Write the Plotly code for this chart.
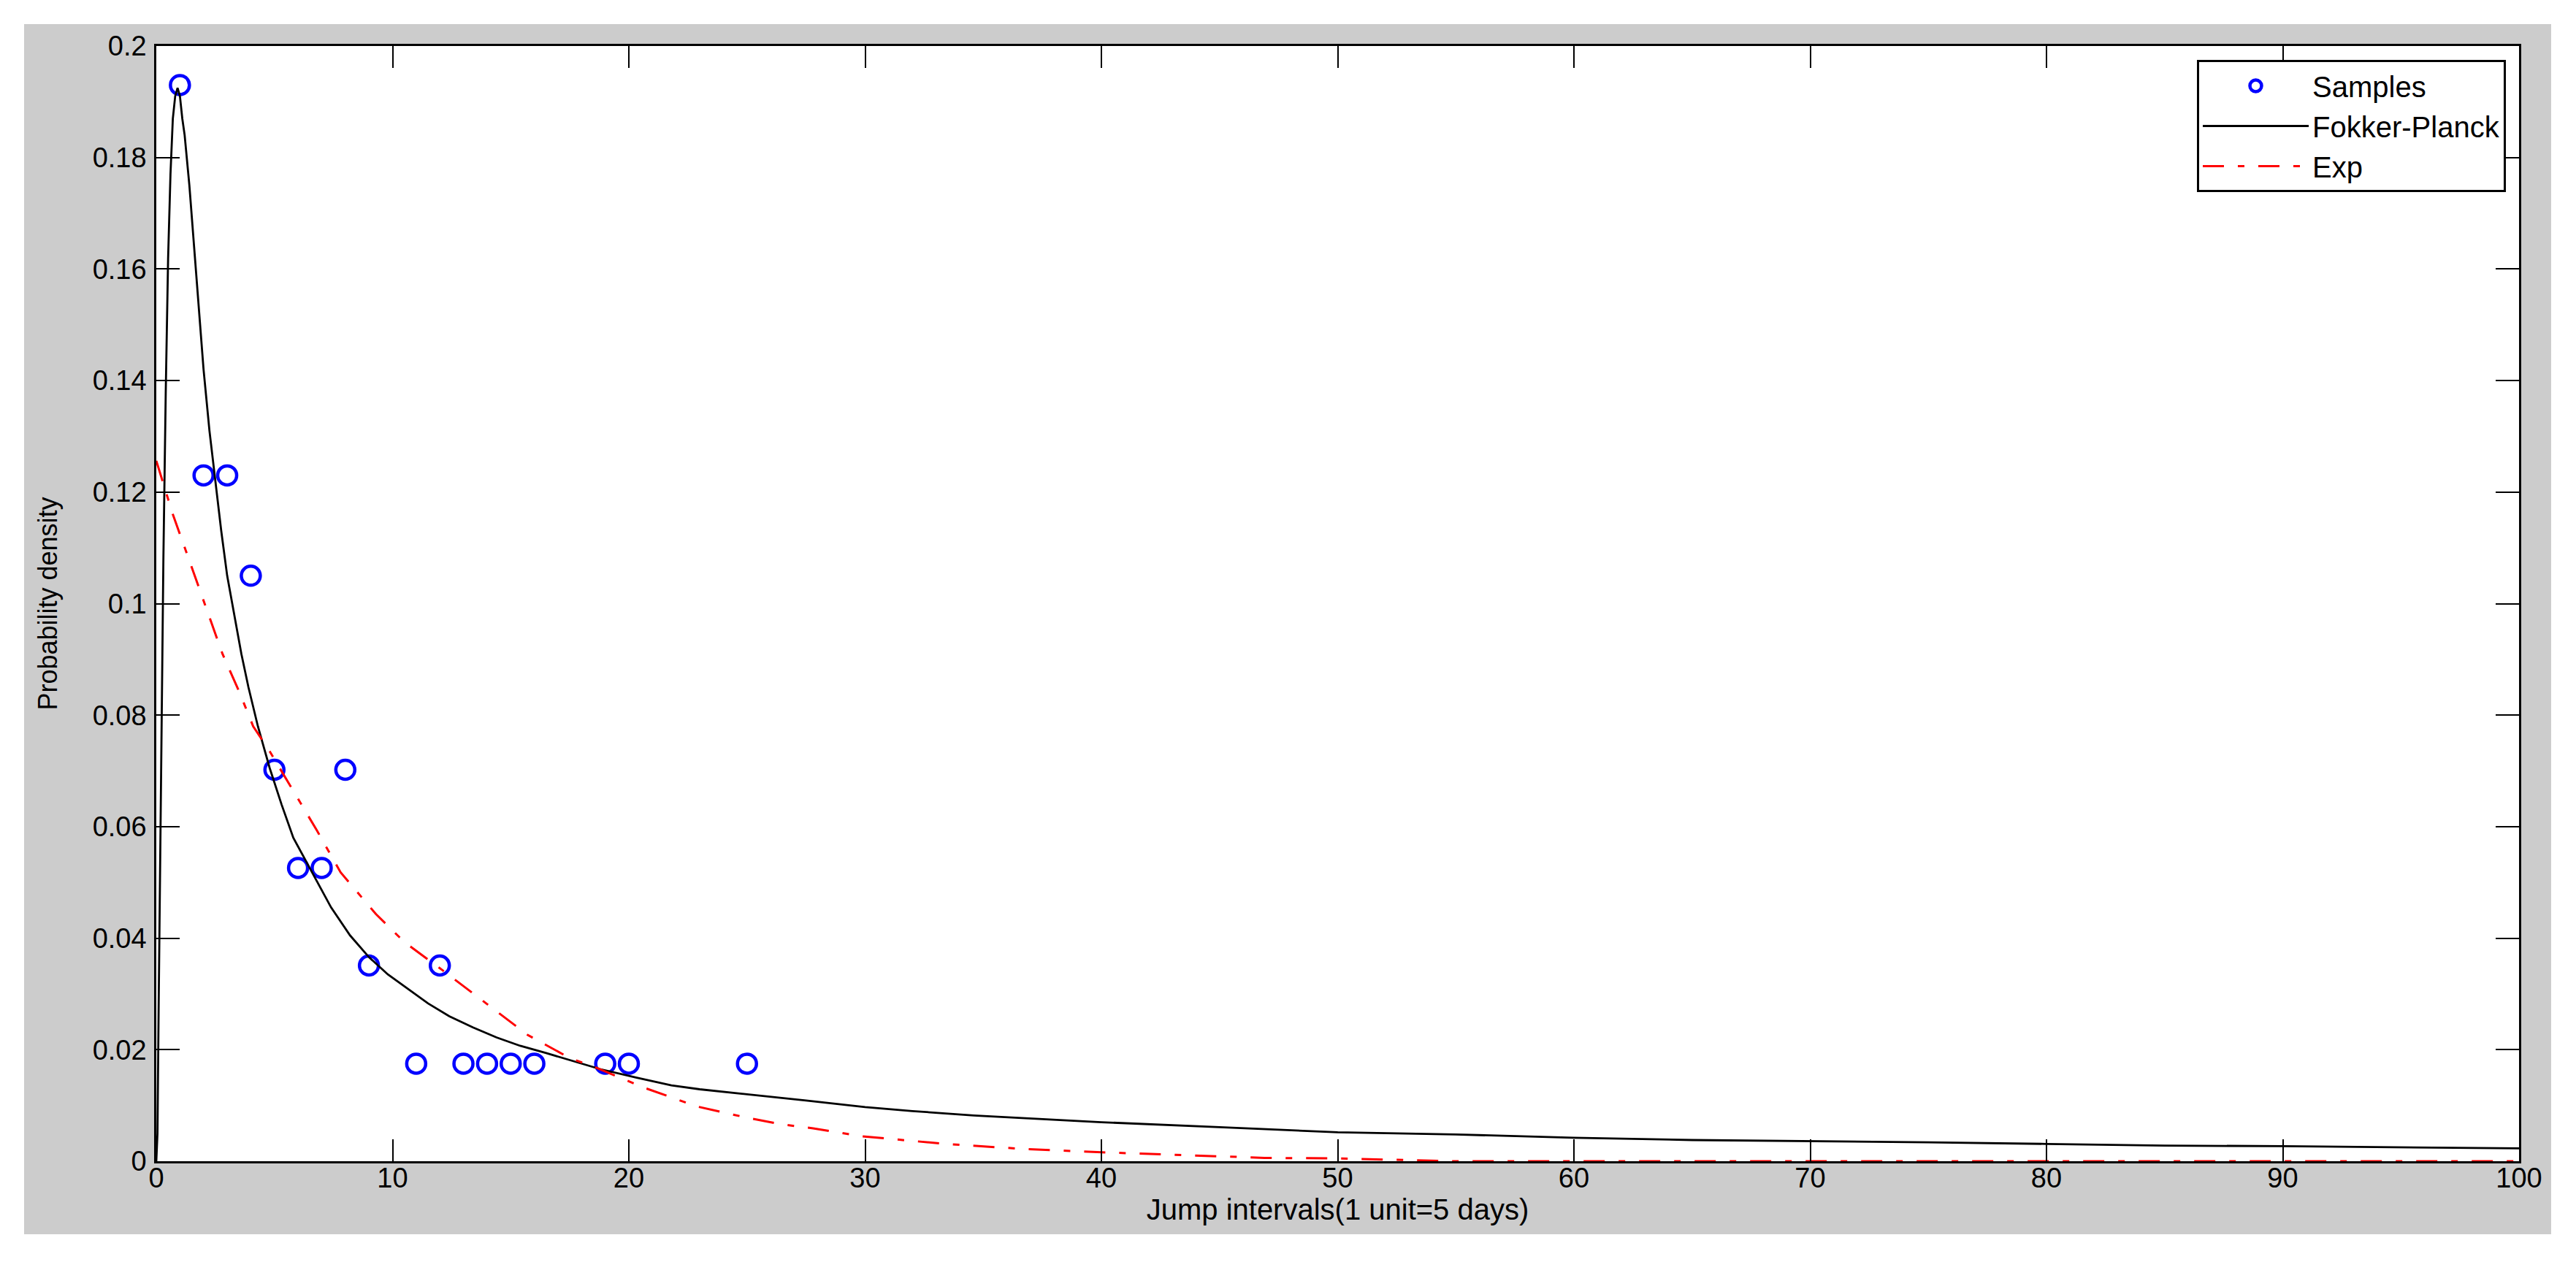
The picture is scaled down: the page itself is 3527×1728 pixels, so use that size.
import plotly.graph_objects as go

# ---- data ----
sample_x = [1, 2, 3, 4, 5, 6, 7, 8, 9, 11, 12, 13, 14, 15, 16, 19, 20, 25]
sample_y = [0.193, 0.123, 0.123, 0.105, 0.0702, 0.0526, 0.0526, 0.0702, 0.0351,
            0.0175, 0.0351, 0.0175, 0.0175, 0.0175, 0.0175, 0.0175, 0.0175, 0.0175]

fp_x = [0, 0.05, 0.1, 0.2, 0.3, 0.4, 0.5, 0.6, 0.7, 0.8,
        0.9, 1.0, 1.1, 1.2, 1.4, 1.6, 1.8, 2.0, 2.25, 2.5,
        2.75, 3.0, 3.3, 3.6, 3.9, 4.3, 4.8, 5.3, 5.8, 6.5,
        7.4, 8.2, 9.0, 9.8, 10.6, 11.5, 12.4, 13.4, 14.4, 15.4,
        16.5, 17.6, 18.8, 20.3, 21.8, 23.0, 24.4, 26.0, 27.5, 30,
        32, 34.6, 37, 40, 45, 50, 55, 60, 65, 70,
        75, 80, 85, 90, 95, 100]
fp_y = [0, 0.005, 0.028, 0.07, 0.108, 0.138, 0.162, 0.177, 0.187, 0.191,
        0.1925, 0.191, 0.187, 0.184, 0.175, 0.164, 0.153, 0.142, 0.131, 0.122,
        0.113, 0.105, 0.098, 0.091, 0.085, 0.078, 0.0705, 0.064, 0.058, 0.0525,
        0.0455, 0.0405, 0.0366, 0.0335, 0.031, 0.0283, 0.026, 0.024, 0.0222, 0.0207,
        0.0194, 0.018, 0.0165, 0.015, 0.0136, 0.0129, 0.0123, 0.0116, 0.0109, 0.0097,
        0.0090, 0.0082, 0.0077, 0.0070, 0.0061, 0.0052, 0.0048, 0.0042, 0.0038, 0.0036,
        0.0034, 0.0031, 0.0028, 0.0027, 0.0025, 0.0023]

exp_x = [0, 0.7, 1.4, 2.1, 2.8, 3.5, 4.1, 4.8, 5.9, 6.8,
         7.8, 9.3, 10.5, 12.1, 13.9, 15.7, 17.5, 18.6, 20.7, 22.9,
         25.0, 26.5, 27.8, 29.8, 33.4, 36.7, 40, 43.6, 46.9, 50,
         52.8, 55, 60, 70, 80, 90, 100]
exp_y = [0.1256, 0.116, 0.1077, 0.0993, 0.091, 0.0843, 0.078, 0.0735, 0.0656, 0.0593,
         0.0518, 0.0443, 0.0393, 0.0343, 0.0285, 0.0227, 0.0185, 0.0168, 0.0131, 0.0098,
         0.0078, 0.0066, 0.0059, 0.0045, 0.0031, 0.0022, 0.0016, 0.0011, 0.0006, 0.0005,
         0.0002, 0, 0, 0, 0, 0, 0]

x_tickvals = [0, 10, 20, 30, 40, 50, 60, 70, 80, 90, 100]
x_ticktext = ["0", "10", "20", "30", "40", "50", "60", "70", "80", "90", "100"]
y_tickvals = [0, 0.02, 0.04, 0.06, 0.08, 0.1, 0.12, 0.14, 0.16, 0.18, 0.2]
y_ticktext = ["0", "0.02", "0.04", "0.06", "0.08", "0.1", "0.12", "0.14", "0.16", "0.18", "0.2"]

series_names = ["Samples", "Fokker-Planck", "Exp"]
x_title = "Jump intervals(1 unit=5 days)"
y_title = "Probability density"

# ---- figure ----
W, H = 3527, 1728
L, R, T, B = 214, 78, 63, 138
pw, ph = W - L - R, H - T - B
FONT = "Liberation Sans, Arial, sans-serif"

fig = go.Figure()
fig.add_trace(go.Scatter(
    x=sample_x, y=sample_y, mode="markers", name=series_names[0],
    marker=dict(symbol="circle-open", size=26, color="#0000ff",
                line=dict(width=4.5, color="#0000ff")),
))
fig.add_trace(go.Scatter(
    x=fp_x, y=fp_y, mode="lines", name=series_names[1],
    line=dict(color="#000000", width=2.8),
))
fig.add_trace(go.Scatter(
    x=exp_x, y=exp_y, mode="lines", name=series_names[2],
    line=dict(color="#ff0000", width=3, dash="29px,19px,9px,19px"),
))

# grey figure frame and white axes box
gx0, gy0, gx1, gy1 = 33, 33, 3493, 1690
shapes = [
    dict(type="rect", xref="paper", yref="paper", layer="below",
         x0=(gx0 - L) / pw, x1=(gx1 - L) / pw,
         y0=(H - B - gy1) / ph, y1=(H - B - gy0) / ph,
         fillcolor="#cccccc", line=dict(width=0)),
    dict(type="rect", xref="paper", yref="paper", layer="below",
         x0=0, x1=1, y0=0, y1=1,
         fillcolor="#ffffff", line=dict(width=0)),
]

axis_common = dict(
    showline=True, linecolor="#000000", linewidth=2.5, mirror="ticks",
    ticks="inside", tickcolor="#000000", tickwidth=2,
    showgrid=False, zeroline=False,
    tickfont=dict(family=FONT, size=38, color="#000000"),
)

fig.update_layout(
    width=W, height=H,
    margin=dict(l=L, r=R, t=T, b=B, autoexpand=False),
    paper_bgcolor="#ffffff", plot_bgcolor="#ffffff",
    shapes=shapes,
    font=dict(family=FONT, size=38, color="#000000"),
    xaxis=dict(range=[0, 100], tickmode="array", tickvals=x_tickvals, ticktext=x_ticktext,
               ticklen=30, automargin=False, ticklabelstandoff=-12,
               title=dict(text=x_title, font=dict(family=FONT, size=40, color="#000000"), standoff=8),
               **axis_common),
    yaxis=dict(range=[0, 0.2], tickmode="array", tickvals=y_tickvals, ticktext=y_ticktext,
               ticklen=32, automargin=False, ticklabelstandoff=3,
               title=dict(text=y_title, font=dict(family=FONT, size=36, color="#000000"), standoff=38),
               **axis_common),
    legend=dict(x=(3431 - L) / pw, xanchor="right", y=(H - B - 82) / ph, yanchor="top",
                bgcolor="#ffffff", bordercolor="#000000", borderwidth=3,
                font=dict(family=FONT, size=40, color="#000000"),
                itemwidth=145, tracegroupgap=0),
    showlegend=True,
)

fig.write_html("out.html", config={"displayModeBar": False},
               post_script="document.body.style.margin='0px';")
